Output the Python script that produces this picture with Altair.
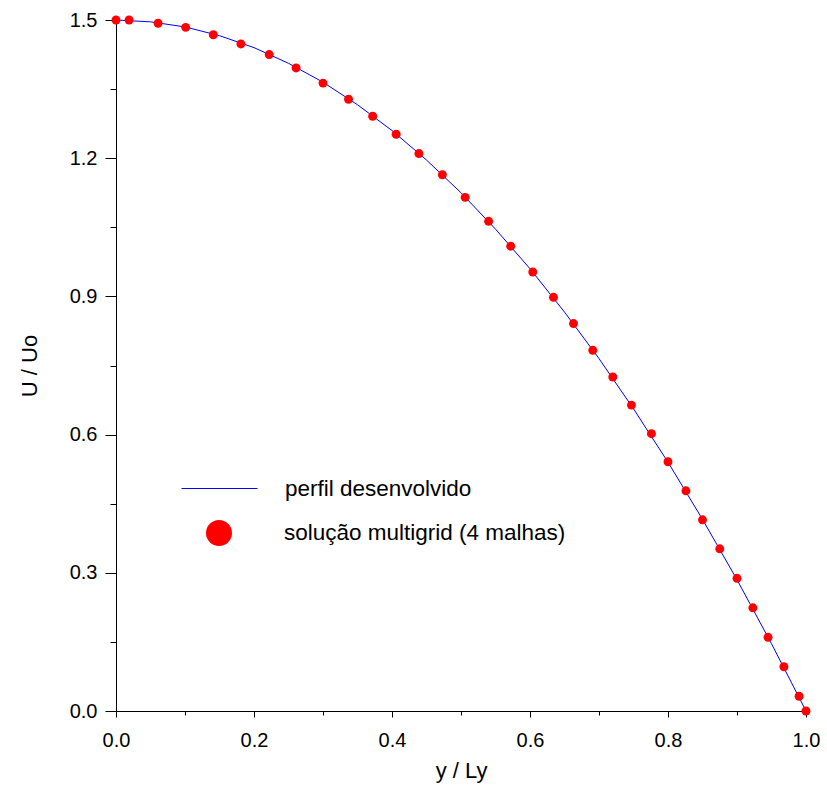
import altair as alt
import pandas as pd

# Multigrid solution points
pt_x = [0.0, 0.019, 0.061, 0.101, 0.141, 0.181, 0.222, 0.261, 0.300, 0.337,
        0.372, 0.406, 0.439, 0.473, 0.506, 0.540, 0.572, 0.604, 0.634, 0.663,
        0.691, 0.720, 0.747, 0.776, 0.800, 0.826, 0.850, 0.875, 0.900, 0.923,
        0.945, 0.968, 0.990, 1.0]
pt_y = [1.5, 1.5, 1.493, 1.484, 1.468, 1.448, 1.425, 1.396, 1.363, 1.328,
        1.291, 1.252, 1.210, 1.164, 1.115, 1.063, 1.009, 0.953, 0.898, 0.841,
        0.783, 0.725, 0.664, 0.602, 0.541, 0.478, 0.415, 0.352, 0.288, 0.224,
        0.160, 0.096, 0.032, 0.0]

# Developed profile curve
ln_x = [0.0, 0.05, 0.1, 0.15, 0.2, 0.25, 0.3, 0.35, 0.4, 0.45, 0.5,
        0.55, 0.6, 0.65, 0.7, 0.75, 0.8, 0.85, 0.9, 0.95, 1.0]
ln_y = [1.5, 1.496, 1.485, 1.466, 1.44, 1.406, 1.365, 1.316, 1.26, 1.196, 1.125,
        1.046, 0.96, 0.866, 0.765, 0.656, 0.54, 0.416, 0.285, 0.146, 0.0]

x_major = [0.0, 0.2, 0.4, 0.6, 0.8, 1.0]
x_minor = [0.1, 0.3, 0.5, 0.7, 0.9]
y_major = [0.0, 0.3, 0.6, 0.9, 1.2, 1.5]
y_minor = [0.15, 0.45, 0.75, 1.05, 1.35]

line_label = "perfil desenvolvido"
point_label = "solução multigrid (4 malhas)"

FONT = "Liberation Sans"
LEG_SIZE = 22.5

df_line = pd.DataFrame({"x": ln_x, "y": ln_y, "s": [line_label] * len(ln_x)})
df_pts = pd.DataFrame({"x": pt_x, "y": pt_y, "s": [point_label] * len(pt_x)})

xscale = alt.Scale(domain=[0, 1], nice=False, zero=False)
yscale = alt.Scale(domain=[0, 1.5], nice=False, zero=False)

x_axis = alt.Axis(values=x_major, format=".1f", tickSize=6, labelPadding=13,
                  labelFlush=False, labelOverlap=False,
                  title="y / Ly", titlePadding=10, orient="bottom")
y_axis = alt.Axis(values=y_major, format=".1f", tickSize=11, labelPadding=8,
                  labelFlush=False, labelOverlap=False,
                  title="U / Uo", titlePadding=28, orient="left")

line = alt.Chart(df_line).mark_line(strokeWidth=1, clip=False).encode(
    x=alt.X("x:Q", scale=xscale, axis=x_axis),
    y=alt.Y("y:Q", scale=yscale, axis=y_axis),
    color=alt.Color("s:N", scale=alt.Scale(domain=[line_label], range=["#0000ff"]),
                    legend=alt.Legend(title=None, orient="none", legendX=65, legendY=430,
                                      symbolType="stroke", symbolSize=5776,
                                      symbolStrokeWidth=1, labelOffset=27,
                                      labelFontSize=LEG_SIZE, labelFont=FONT, labelLimit=500,
                                      labelColor="black", padding=0)),
)

points = alt.Chart(df_pts).mark_point(size=80, filled=True, opacity=1, color="#ff0000",
                                      strokeWidth=0, clip=False).encode(
    x=alt.X("x:Q", scale=xscale,
            axis=alt.Axis(values=x_minor, labels=False, tickSize=4, domain=False,
                          title=None, orient="bottom")),
    y=alt.Y("y:Q", scale=yscale,
            axis=alt.Axis(values=y_minor, labels=False, tickSize=6, domain=False,
                          title=None, orient="left")),
    shape=alt.Shape("s:N", scale=alt.Scale(domain=[point_label], range=["circle"]),
                    legend=alt.Legend(title=None, orient="none", legendX=90, legendY=500,
                                      symbolSize=676, symbolFillColor="#ff0000",
                                      symbolStrokeColor="#ff0000", symbolStrokeWidth=0,
                                      symbolOpacity=1, labelOffset=52, labelLimit=500,
                                      labelFontSize=LEG_SIZE, labelFont=FONT,
                                      labelColor="black", padding=0)),
)

chart = alt.layer(line, points).resolve_axis(x="independent", y="independent").properties(
    width=690, height=691,
    background="white",
    autosize=alt.AutoSizeParams(type="none"),
    padding={"left": 116, "top": 20, "right": 21, "bottom": 76},
).configure_view(stroke=None).configure_axis(
    grid=False, domainColor="black", tickColor="black", domainWidth=1, tickWidth=1,
    labelFont=FONT, labelFontSize=20, labelColor="black",
    titleFont=FONT, titleFontSize=22, titleFontWeight="normal", titleColor="black",
)

chart.save("out.html", embed_options={"renderer": "svg", "actions": False})
